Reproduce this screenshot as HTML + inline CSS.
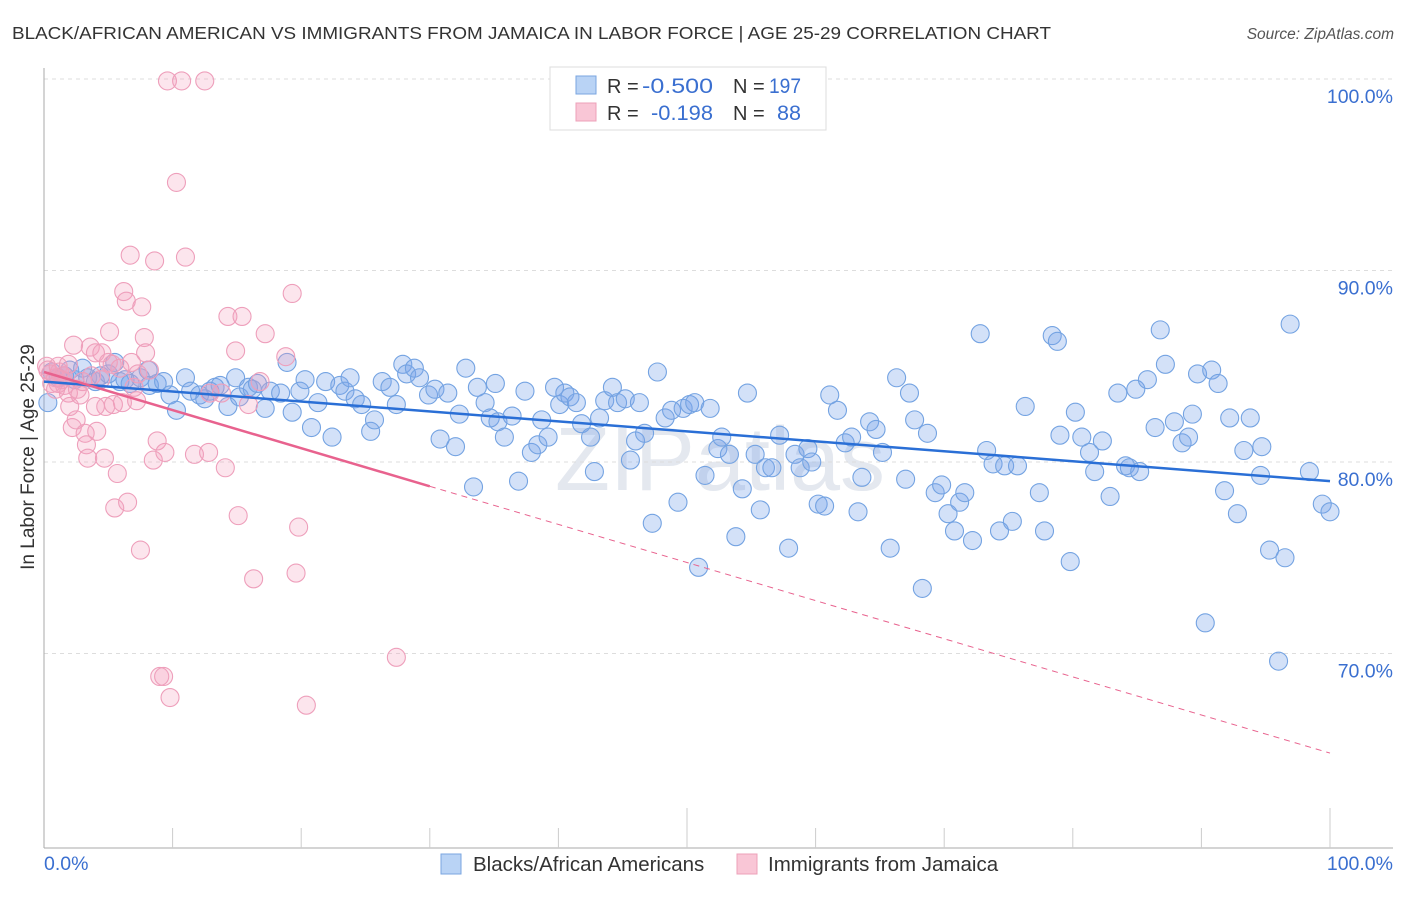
<!DOCTYPE html>
<html><head><meta charset="utf-8"><style>
body{margin:0;background:#fff;font-family:"Liberation Sans",sans-serif;}
svg text{font-family:"Liberation Sans",sans-serif;}
</style></head><body>
<svg id="chart" width="1406" height="892" viewBox="0 0 1406 892" xmlns="http://www.w3.org/2000/svg">
<text x="12" y="39" font-size="17.5" fill="#333" textLength="1039" lengthAdjust="spacingAndGlyphs">BLACK/AFRICAN AMERICAN VS IMMIGRANTS FROM JAMAICA IN LABOR FORCE | AGE 25-29 CORRELATION CHART</text>
<text x="1394" y="39" font-size="15.5" fill="#555" font-style="italic" text-anchor="end">Source: ZipAtlas.com</text>
<text x="720" y="490" font-size="90" fill="#e4e8ef" text-anchor="middle" font-family="Liberation Serif">ZIPatlas</text>
<g id="grid"></g>
<g id="axes"></g>
<g id="blue-pts"></g>
<g id="pink-pts"></g>
<g id="trends"></g>
<text transform="translate(34,457) rotate(-90)" font-size="19" fill="#333" text-anchor="middle">In Labor Force | Age 25-29</text>
<g>
<rect x="550" y="67" width="276" height="63" fill="#fff" stroke="#ddd"/>
<rect x="576" y="76" width="20" height="18" fill="#b9d3f5" stroke="#7aa6e0"/>
<rect x="576" y="103" width="20" height="18" fill="#f9c6d6" stroke="#eda0b8"/>
<text x="607" y="93" font-size="20" fill="#333">R =</text>
<text x="642" y="93" font-size="21" fill="#3a6fd0" textLength="71" lengthAdjust="spacingAndGlyphs">-0.500</text>
<text x="733" y="93" font-size="20" fill="#333">N =</text>
<text x="769" y="93" font-size="21" fill="#3a6fd0" textLength="32" lengthAdjust="spacingAndGlyphs">197</text>
<text x="607" y="120" font-size="20" fill="#333">R =</text>
<text x="651" y="120" font-size="21" fill="#3a6fd0" textLength="62" lengthAdjust="spacingAndGlyphs">-0.198</text>
<text x="733" y="120" font-size="20" fill="#333">N =</text>
<text x="777" y="120" font-size="21" fill="#3a6fd0" textLength="24" lengthAdjust="spacingAndGlyphs">88</text>
</g>
<g>
<rect x="441" y="854" width="20" height="20" fill="#b9d3f5" stroke="#7aa6e0"/>
<text x="473" y="871" font-size="20.5" fill="#333">Blacks/African Americans</text>
<rect x="737" y="854" width="20" height="20" fill="#f9c6d6" stroke="#eda0b8"/>
<text x="768" y="871" font-size="20.5" fill="#333">Immigrants from Jamaica</text>
</g>
</svg>
<script>
const blueX=[0.3,0.6,1.1,1.6,2.0,2.4,3.0,3.4,4.0,4.4,5.0,5.5,5.9,6.3,6.7,7.5,8.1,8.2,8.8,9.3,9.8,10.3,11.0,11.4,12.1,12.5,12.9,13.3,13.7,14.3,14.9,15.2,15.9,16.2,16.6,17.2,17.6,18.4,18.9,19.3,19.9,20.3,20.8,21.3,21.9,22.4,23.0,23.4,23.8,24.2,24.7,25.4,25.7,26.3,26.9,27.4,27.9,28.2,28.8,29.2,29.9,30.4,30.8,31.4,32.0,32.3,32.8,33.4,33.7,34.3,34.7,35.1,35.3,35.8,36.4,36.9,37.4,37.9,38.4,38.7,39.2,39.7,40.1,40.5,40.9,41.4,41.8,42.5,42.8,43.2,43.6,44.2,44.6,45.2,45.6,46.0,46.3,46.7,47.3,47.7,48.3,48.8,49.3,49.7,50.2,50.6,50.9,51.4,51.8,52.4,52.7,53.3,53.8,54.3,54.7,55.3,55.7,56.1,56.6,57.2,57.9,58.4,58.8,59.4,59.7,60.2,60.7,61.1,61.7,62.3,62.8,63.3,63.6,64.2,64.7,65.2,65.8,66.3,67.0,67.3,67.7,68.3,68.7,69.3,69.8,70.3,70.8,71.2,71.6,72.2,72.8,73.3,73.8,74.3,74.7,75.3,75.7,76.3,77.4,77.8,78.4,78.8,79.0,79.8,80.2,80.7,81.3,81.7,82.3,82.9,83.5,84.1,84.4,84.9,85.2,85.8,86.4,86.8,87.2,87.9,88.5,89.0,89.3,89.7,90.3,90.8,91.3,91.8,92.2,92.8,93.3,93.8,94.7,95.3,96.0,96.5,96.9,94.6,98.4,99.4,100.0];
const blueY=[83.1,84.7,84.4,84.5,84.8,84.3,84.9,84.4,84.2,84.5,84.6,85.2,84.2,84.3,84.1,84.4,84.8,84.0,84.1,84.2,83.5,82.7,84.4,83.7,83.5,83.3,83.7,83.9,84.0,82.9,84.4,83.4,83.9,83.8,84.1,82.8,83.7,83.6,85.2,82.6,83.7,84.3,81.8,83.1,84.2,81.3,84.0,83.7,84.4,83.3,83.0,81.6,82.2,84.2,83.9,83.0,85.1,84.6,84.9,84.4,83.5,83.8,81.2,83.6,80.8,82.5,84.9,78.7,83.9,83.1,82.3,84.1,82.1,81.3,82.4,79.0,83.7,80.5,80.9,82.2,81.3,83.9,83.0,83.6,83.4,83.1,82.0,81.3,79.5,82.3,83.2,83.9,83.1,83.3,80.1,81.1,83.1,81.5,76.8,84.7,82.3,82.7,77.9,82.8,83.0,83.1,74.5,79.3,82.8,80.7,81.3,80.4,76.1,78.6,83.6,80.4,77.5,79.7,79.7,81.4,75.5,80.4,79.7,80.7,80.0,77.8,77.7,83.5,82.7,81.0,81.3,77.4,79.2,82.1,81.7,80.5,75.5,84.4,79.1,83.6,82.2,73.4,81.5,78.4,78.8,77.3,76.4,77.9,78.4,75.9,86.7,80.6,79.9,76.4,79.8,76.9,79.8,82.9,78.4,76.4,86.6,86.3,81.4,74.8,82.6,81.3,80.5,79.5,81.1,78.2,83.6,79.8,79.7,83.8,79.5,84.3,81.8,86.9,85.1,82.1,81.0,81.3,82.5,84.6,71.6,84.8,84.1,78.5,82.3,77.3,80.6,82.3,80.8,75.4,69.6,75.0,87.2,79.3,79.5,77.8,77.4];
const pinkX=[0.2,0.3,0.5,0.6,0.9,1.1,1.2,1.4,1.6,1.9,2.0,2.2,2.3,2.5,2.6,2.8,3.2,3.3,3.4,3.6,3.7,4.0,4.1,4.4,4.5,4.7,4.8,5.0,5.1,5.3,5.4,5.5,5.7,5.9,6.1,6.2,6.4,6.5,6.7,6.8,7.0,7.2,7.3,7.5,7.6,7.8,7.9,8.2,8.5,8.6,8.8,9.0,9.3,9.4,9.6,9.8,10.3,10.7,11.0,11.7,12.5,12.8,12.9,13.8,14.1,14.3,14.9,15.1,15.4,15.9,16.3,16.8,17.2,18.8,19.3,19.6,19.8,20.4,27.4,0.9,1.5,1.9,1.1,3.0,4.0];
const pinkY=[85.0,84.8,84.6,84.1,84.4,85.0,84.7,84.3,84.0,83.6,82.9,81.8,86.1,82.2,83.8,83.5,81.5,80.9,80.2,86.0,84.5,85.7,81.6,84.3,85.7,80.2,82.9,85.2,86.8,85.1,83.0,77.6,79.4,84.9,83.1,88.9,88.4,77.9,90.8,85.2,83.9,83.2,84.6,75.4,88.1,86.5,85.7,84.8,80.1,90.5,81.1,68.8,68.8,80.5,99.9,67.7,94.6,99.9,90.7,80.4,99.9,80.5,83.6,83.6,79.7,87.6,85.8,77.2,87.6,83.0,73.9,84.2,86.7,85.5,88.8,74.2,76.6,67.3,69.8,83.8,84.5,85.1,84.1,84.2,82.9];
const yTicks=[100,90,80,70];
const yTickLabels=["100.0%","90.0%","80.0%","70.0%"];
const xTickLabels=["0.0%","100.0%"];
const blueTrend=[84.2,79.0];
const pinkTrend=[84.7,64.8];
const pinkSolidEnd=30;

const NS="http://www.w3.org/2000/svg";
const X0=44,X1=1330,YTOP=79,PX10=19.15;
const sx=v=>X0+(X1-X0)*v/100;
const sy=v=>YTOP+(100-v)*PX10;
function mk(tag,attrs,parent){const e=document.createElementNS(NS,tag);for(const k in attrs)e.setAttribute(k,attrs[k]);parent.appendChild(e);return e;}
const grid=document.getElementById('grid'),axes=document.getElementById('axes');
yTicks.forEach((t,i)=>{
  const l=mk('line',{x1:X0,x2:1393,y1:sy(t),y2:sy(t),stroke:'#ddd','stroke-dasharray':'4,4'},grid);
  
  
  const tx=mk('text',{x:1393,y:sy(t)+24,'font-size':19.5,fill:'#3a6fd0','text-anchor':'end'},axes);
  tx.textContent=yTickLabels[i];
  
  
});
const ax=mk('line',{x1:X0,x2:X0,y1:68,y2:848,stroke:'#aaa'},axes);


const bx=mk('line',{x1:X0,x2:1393,y1:848,y2:848,stroke:'#aaa'},axes);


for(let i=1;i<=10;i++){
  const v=i*10;
  const tk=mk('line',{x1:sx(v),x2:sx(v),y1:(i==5||i==10)?808:828,y2:848,stroke:'#ccc'},axes);
  
  
}
const xl0=mk('text',{x:44,y:870,'font-size':19.5,fill:'#3a6fd0'},axes);xl0.textContent=xTickLabels[0];


const xl1=mk('text',{x:1393,y:870,'font-size':19.5,fill:'#3a6fd0','text-anchor':'end'},axes);xl1.textContent=xTickLabels[1];



const bg=document.getElementById('blue-pts'),pg=document.getElementById('pink-pts');
blueX.forEach((x,i)=>{
  const c=mk('circle',{cx:sx(x),cy:sy(blueY[i]),r:9,fill:'rgba(120,165,235,0.33)',stroke:'#74a3e2','stroke-width':1.1},bg);
  
  
});
pinkX.forEach((x,i)=>{
  const c=mk('circle',{cx:sx(x),cy:sy(pinkY[i]),r:9,fill:'rgba(245,160,190,0.28)',stroke:'#ee9fbb','stroke-width':1.1},pg);
  
  
});
const tg=document.getElementById('trends');
const bl=mk('line',{x1:sx(0),y1:sy(blueTrend[0]),x2:sx(100),y2:sy(blueTrend[1]),stroke:'#2a6fd6','stroke-width':2.5},tg);


const pm=pinkTrend[0]+(pinkTrend[1]-pinkTrend[0])*pinkSolidEnd/100;
const ps=mk('line',{x1:sx(0),y1:sy(pinkTrend[0]),x2:sx(pinkSolidEnd),y2:sy(pm),stroke:'#e8628e','stroke-width':2.5},tg);


const pd=mk('line',{x1:sx(pinkSolidEnd),y1:sy(pm),x2:sx(100),y2:sy(pinkTrend[1]),stroke:'#e8628e','stroke-width':1,'stroke-dasharray':'6,5'},tg);


</script>
</body></html>
